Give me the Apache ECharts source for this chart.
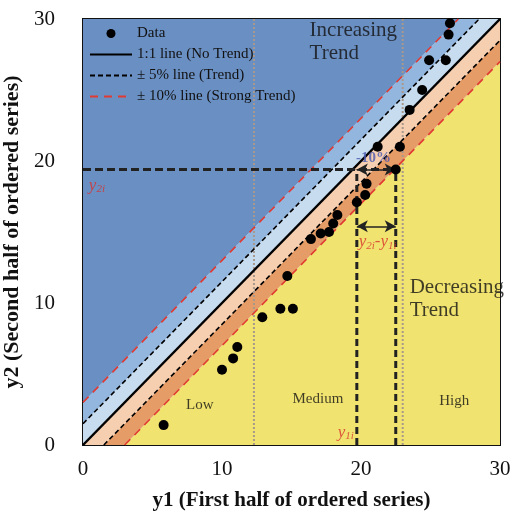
<!DOCTYPE html>
<html>
<head>
<meta charset="utf-8">
<script src="https://cdn.jsdelivr.net/npm/echarts@6/dist/echarts.min.js"></script>
<style>
  html, body { margin: 0; padding: 0; background: #fff; }
  #main { width: 511px; height: 514px; }
</style>
</head>
<body>
<div id="main"></div>
<script>
// observed pairs (first half vs second half of ordered series)
const y1 = [5.8, 10.0, 10.8, 11.1, 12.9, 14.2, 15.1, 14.7, 16.4, 17.1, 17.7, 18.0, 18.3, 19.7, 20.3, 20.4, 22.5, 21.2, 22.8, 23.5, 24.4, 24.9, 26.1, 26.3, 26.4];
const y2 = [1.4, 5.3, 6.1, 6.9, 9.0, 9.6, 9.6, 11.9, 14.5, 14.9, 15.0, 15.6, 16.2, 17.1, 17.6, 18.4, 19.4, 21.0, 21.0, 23.6, 25.0, 27.1, 27.1, 28.9, 29.7];

// band edges as offsets from the 1:1 line
const bandLow = [-40, -3, -1.5, 0, 1.5, 3];
const bandHigh = [-3, -1.5, 0, 1.5, 3, 40];
const bandColors = ['#f1e36f', '#e69c66', '#f6cfb1', '#c7dcef', '#93b6de', '#6a8fc2'];

const trendOffset = 1.5;   // ±5% line
const strongOffset = 3;    // ±10% line
const axisMax = 30;

// class thresholds (Low / Medium / High)
const thresholds = [12.3, 23.0];

// worked example
const exY1 = 19.7;
const exX = 22.5;
const exY2 = 19.4;
const exArrowY = 15.4;

const serif = 'Liberation Serif';

// segment of y = x + c inside the 0..axisMax square
function diag(c) {
  return c >= 0 ? [[0, c], [axisMax - c, axisMax]] : [[-c, 0], [axisMax, axisMax + c]];
}

const chart = echarts.init(document.getElementById('main'));

const hideDot = { opacity: 0 };

const option = {
  animation: false,
  textStyle: { fontFamily: serif },
  grid: {
    left: 83, right: 11, top: 19, bottom: 69,
    outerBoundsMode: 'none', containLabel: false,
    show: true, borderColor: '#111', borderWidth: 2, backgroundColor: 'transparent'
  },
  legend: {
    orient: 'vertical',
    left: 84, top: 21,
    itemWidth: 42, itemHeight: 9, itemGap: 6,
    textStyle: { fontFamily: serif, fontSize: 15, color: '#111' },
    data: [
      { name: 'Data' },
      { name: '1:1 line (No Trend)', itemStyle: hideDot },
      { name: '± 5% line (Trend)', itemStyle: hideDot },
      { name: '± 10% line (Strong Trend)', itemStyle: hideDot }
    ]
  },
  xAxis: {
    type: 'value', min: 0, max: axisMax, interval: 10,
    name: 'y1 (First half of ordered series)',
    nameLocation: 'middle', nameGap: 45,
    nameTextStyle: { fontFamily: serif, fontSize: 21, fontWeight: 'bold', color: '#111' },
    axisLine: { show: true, lineStyle: { color: '#111', width: 2 } },
    axisTick: { inside: true, length: 7, lineStyle: { color: '#111', width: 2 } },
    axisLabel: { fontFamily: serif, fontSize: 21, color: '#111', margin: 14 },
    splitLine: { show: false }
  },
  yAxis: {
    type: 'value', min: 0, max: axisMax, interval: 10,
    name: 'y2 (Second half of ordered series)',
    nameLocation: 'middle', nameGap: 52,
    nameTextStyle: { fontFamily: serif, fontSize: 22, fontWeight: 'bold', color: '#111' },
    axisLine: { show: true, lineStyle: { color: '#111', width: 2 } },
    axisTick: { inside: true, length: 9, lineStyle: { color: '#111', width: 2 } },
    axisLabel: { fontFamily: serif, fontSize: 21, color: '#111', margin: 28 },
    splitLine: { show: false }
  },
  series: [
    {
      type: 'custom',
      clip: true,
      silent: true,
      z: 1,
      data: bandLow.map((lo, i) => [lo, bandHigh[i]]),
      renderItem: function (params, api) {
        const lo = api.value(0), hi = api.value(1);
        const pts = [[-5, -5 + lo], [35, 35 + lo], [35, 35 + hi], [-5, -5 + hi]].map(p => api.coord(p));
        const cs = params.coordSys;
        return {
          type: 'polygon',
          shape: { points: pts },
          style: { fill: bandColors[params.dataIndex] },
          clipPath: { type: 'rect', shape: { x: cs.x, y: cs.y, width: cs.width, height: cs.height } }
        };
      }
    },
    // class thresholds
    ...thresholds.map(t => ({
      type: 'line', symbol: 'none', silent: true, z: 2,
      data: [[t, 0], [t, axisMax]],
      lineStyle: { color: '#a8998c', width: 2, type: [2, 2] }
    })),
    {
      name: '1:1 line (No Trend)', type: 'line', symbol: 'none', z: 4,
      data: diag(0),
      itemStyle: { color: '#000' },
      lineStyle: { color: '#000', width: 2.5 }
    },
    {
      name: '± 5% line (Trend)', type: 'line', symbol: 'none', z: 4,
      data: diag(trendOffset),
      itemStyle: { color: '#000' },
      lineStyle: { color: '#000', width: 1.6, type: [5, 3] }
    },
    {
      name: '± 5% line (Trend)', type: 'line', symbol: 'none', z: 4,
      data: diag(-trendOffset),
      itemStyle: { color: '#000' },
      lineStyle: { color: '#000', width: 1.6, type: [5, 3] }
    },
    {
      name: '± 10% line (Strong Trend)', type: 'line', symbol: 'none', z: 4,
      data: diag(strongOffset),
      itemStyle: { color: '#e03a32' },
      lineStyle: { color: '#e03a32', width: 1.6, type: [8, 6] }
    },
    {
      name: '± 10% line (Strong Trend)', type: 'line', symbol: 'none', z: 4,
      data: diag(-strongOffset),
      itemStyle: { color: '#e03a32' },
      lineStyle: { color: '#e03a32', width: 1.6, type: [8, 6] }
    },
    // worked example guides
    {
      type: 'line', symbol: 'none', silent: true, z: 5,
      data: [[0, exY2], [exX, exY2]],
      lineStyle: { color: '#222', width: 3, type: [8, 4] },
      markLine: {
        silent: true, symbol: ['arrow', 'arrow'], symbolSize: [9, 11], label: { show: false },
        lineStyle: { color: '#222', width: 1.5, type: 'solid' },
        data: [
          [{ coord: [exY1, exY2] }, { coord: [exX, exY2] }],
          [{ coord: [exY1, exArrowY] }, { coord: [exX, exArrowY] }]
        ]
      }
    },
    {
      type: 'line', symbol: 'none', silent: true, z: 5,
      data: [[exY1, 0], [exY1, exY2]],
      lineStyle: { color: '#222', width: 3, type: [7, 4] }
    },
    {
      type: 'line', symbol: 'none', silent: true, z: 5,
      data: [[exX, 0], [exX, exY2]],
      lineStyle: { color: '#222', width: 3, type: [7, 4] }
    },
    {
      name: 'Data', type: 'scatter', z: 6,
      symbol: 'circle', symbolSize: 10,
      itemStyle: { color: '#000', opacity: 1 },
      data: y1.map((v, i) => [v, y2[i]])
    },
    // text annotations
    {
      type: 'scatter', symbolSize: 0, silent: true, z: 7,
      label: {
        show: true, position: 'inside', fontFamily: serif, color: '#111', fontSize: 15,
        formatter: p => p.data[2]
      },
      data: [
        [8.4, 2.8, 'Low'],
        [16.9, 3.2, 'Medium'],
        [26.7, 3.1, 'High']
      ]
    },
    {
      type: 'scatter', symbolSize: 0, silent: true, z: 7,
      label: {
        show: true, position: 'right', distance: 0, fontFamily: serif, color: '#111', fontSize: 21,
        lineHeight: 23, formatter: p => p.data[2]
      },
      data: [
        [16.3, 28.4, 'Increasing\nTrend'],
        [23.5, 10.3, 'Decreasing\nTrend']
      ]
    },
    {
      type: 'scatter', symbolSize: 0, silent: true, z: 7,
      label: {
        show: true, position: 'inside', fontFamily: serif,
        formatter: p => p.data[2],
        rich: {
          i: { fontFamily: serif, fontStyle: 'italic', fontSize: 17, color: '#d8322c' },
          s: { fontFamily: serif, fontStyle: 'italic', fontSize: 11, color: '#d8322c', padding: [8, 0, 0, 0] },
          b: { fontFamily: serif, fontWeight: 'bold', fontSize: 15, color: '#4b59b0' }
        }
      },
      data: [
        [1.0, 18.3, '{i|y}{s|2i}'],
        [18.9, 0.9, '{i|y}{s|1i}'],
        [21.2, 14.3, '{i|y}{s|2i}{i|-y}{s|1i}'],
        [20.9, 20.2, '{b|-10%}']
      ]
    }
  ]
};

chart.setOption(option);
window.onresize = function () {
  chart.resize();
};
</script>
</body>
</html>
